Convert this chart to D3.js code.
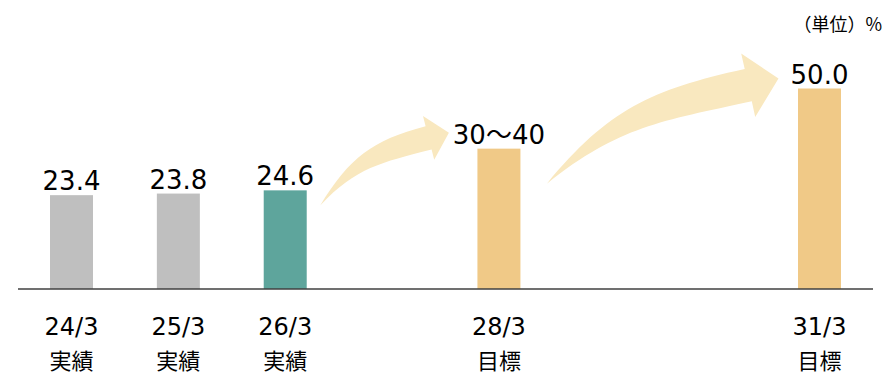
<!DOCTYPE html>
<html><head><meta charset="utf-8">
<script src="https://cdn.jsdelivr.net/npm/d3@7/dist/d3.min.js"></script>
<style>
html,body{margin:0;padding:0;background:#fff;}
svg{display:block;}
</style></head>
<body>
<svg id="chart" width="884" height="377"></svg>
<script>
// ---- data ----
const periods = ["24/3", "25/3", "26/3", "28/3", "31/3"];
const years = [24, 25, 26, 28, 31];
const kinds = ["実績", "実績", "実績", "目標", "目標"];
const values = [23.4, 23.8, 24.6, 35, 50.0];
const valueLabels = ["23.4", "23.8", "24.6", "30～40", "50.0"];
const barColors = ["#bfbfbf", "#bfbfbf", "#5ea59c", "#f0c987", "#f0c987"];
const unitLabel = "（単位）%";
// arrows: from index -> to index
const arrows = [[2, 3], [3, 4]];

const svg = d3.select("#chart");
const baseY = 289;
const numFont = "'DejaVu Sans','Noto Sans CJK JP',sans-serif";
const jpFont = "'Noto Sans CJK JP','DejaVu Sans',sans-serif";

const x = d3.scaleLinear().domain([24, 31]).range([71.5, 819.5]);
const y = d3.scaleLinear().domain([0, 50]).range([baseY, 88.5]);
const barW = 43;

// ---- arrows (decorative) ----
function rot(v, a) { const c = Math.cos(a), s = Math.sin(a); return [v[0]*c - v[1]*s, v[0]*s + v[1]*c]; }
function add(a, b, k=1) { return [a[0] + b[0]*k, a[1] + b[1]*k]; }
function arrowPath(T, P, o) {
  const d = [P[0]-T[0], P[1]-T[1]];
  const len = Math.hypot(d[0], d[1]);
  const c = [d[0]/len, d[1]/len];
  const deg = Math.PI/180;
  const u = rot(c, o.bend*deg);
  const n = [u[1], -u[0]];
  const B = add(P, u, -o.headLen);
  const U = add(B, n, o.bodyW/2), L = add(B, n, -o.bodyW/2);
  const HT = add(B, n, o.headW/2), HB = add(B, n, -o.headW/2);
  const vu = rot(c, -(o.bend + o.tailUp)*deg);
  const vl = rot(c, -(o.bend + o.tailLo)*deg);
  const lu = Math.hypot(U[0]-T[0], U[1]-T[1]) * 0.42;
  const ll = Math.hypot(L[0]-T[0], L[1]-T[1]) * 0.42;
  const cu1 = add(T, vu, lu), cu2 = add(U, u, -lu);
  const cl1 = add(L, u, -ll), cl2 = add(T, vl, ll);
  const f = p => p[0].toFixed(1) + "," + p[1].toFixed(1);
  return `M${f(T)}C${f(cu1)} ${f(cu2)} ${f(U)}L${f(HT)}L${f(P)}L${f(HB)}L${f(L)}C${f(cl1)} ${f(cl2)} ${f(T)}Z`;
}
const arrowGeom = [
  {dx0: 35, dy0: 15, dx1: -50, dy1: -16, bend: 15, headLen: 21, headW: 45, bodyW: 24, tailUp: 14, tailLo: 2},
  {dx0: 48, dy0: 35, dx1: -41, dy1: -10, bend: 12, headLen: 31, headW: 65, bodyW: 33, tailUp: 14, tailLo: 2}
];
svg.append("g").selectAll("path").data(arrows).join("path")
  .attr("fill", "#f9e8bf")
  .attr("d", (a, i) => {
    const g = arrowGeom[i];
    const T = [x(years[a[0]]) + g.dx0, y(values[a[0]]) + g.dy0];
    const P = [x(years[a[1]]) + g.dx1, y(values[a[1]]) + g.dy1];
    return arrowPath(T, P, g);
  });

// ---- bars ----
svg.append("g").selectAll("rect").data(values).join("rect")
  .attr("x", (d, i) => x(years[i]) - barW/2)
  .attr("width", barW)
  .attr("y", d => y(d))
  .attr("height", d => y(0) - y(d))
  .attr("fill", (d, i) => barColors[i]);

// ---- axis line ----
svg.append("line")
  .attr("x1", 18).attr("x2", 873)
  .attr("y1", baseY).attr("y2", baseY)
  .attr("stroke", "#404040").attr("stroke-width", 1.6);

// ---- value labels ----
svg.append("g").selectAll("text").data(values).join("text")
  .attr("x", (d, i) => x(years[i]))
  .attr("y", d => y(d) - 5)
  .attr("text-anchor", "middle")
  .attr("font-family", numFont)
  .attr("font-size", 26)
  .attr("fill", "#000")
  .text((d, i) => valueLabels[i]);

// ---- category labels ----
const cat = svg.append("g").selectAll("g").data(periods).join("g");
cat.append("text")
  .attr("x", (d, i) => x(years[i]))
  .attr("y", 335)
  .attr("text-anchor", "middle")
  .attr("font-family", numFont)
  .attr("font-size", 24)
  .attr("fill", "#000")
  .text(d => d);
cat.append("text")
  .attr("x", (d, i) => x(years[i]))
  .attr("y", 369)
  .attr("text-anchor", "middle")
  .attr("font-family", jpFont)
  .attr("font-size", 22)
  .attr("fill", "#000")
  .text((d, i) => kinds[i]);

// ---- unit ----
svg.append("text")
  .attr("x", 882).attr("y", 31)
  .attr("text-anchor", "end")
  .attr("font-family", jpFont)
  .attr("font-size", 18)
  .attr("fill", "#000")
  .text(unitLabel);
</script>
</body></html>
